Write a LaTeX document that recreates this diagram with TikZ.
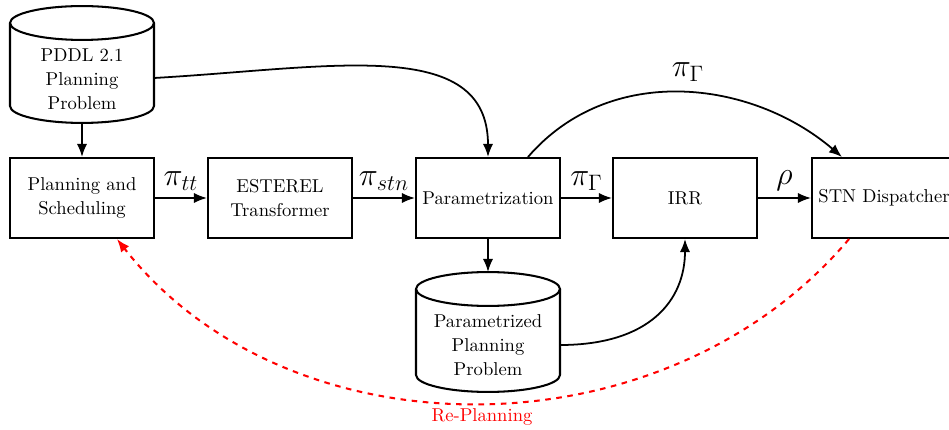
\documentclass[tikz,border=0pt]{standalone}
\usetikzlibrary{arrows.meta}
\begin{document}
\begin{tikzpicture}[x=0.5376pt,y=0.5376pt,
  box/.style={draw, line width=1.1pt, minimum width=77.4pt, minimum height=43pt, align=center, inner sep=2pt},
  txt/.style={align=center, inner sep=0pt},
  cylline/.style={line width=1.1pt},
  conn/.style={line width=0.95pt, -{Latex[length=7pt,width=5.5pt]}},
  lbl/.style={font=\LARGE, inner sep=2pt},
  replan/.style={red, dashed, line width=1.1pt, -{Latex[length=7pt,width=5.5pt]}}]
\useasboundingbox (0,0) rectangle (949,-430);

% PDDL cylinder
\draw[cylline] (82,-23) ellipse [x radius=38.7pt, y radius=9.1pt];
\draw[cylline] (10,-23) -- (10,-106) arc[start angle=180,end angle=360,x radius=38.7pt,y radius=9.1pt] -- (154,-23);
\node[txt] (pddl) at (82,-79) {PDDL 2.1\\[1pt]Planning\\[1pt]Problem};
\coordinate (pddlS) at (82,-123);
\coordinate (pddlE) at (154,-78);

% Parametrized cylinder
\draw[cylline] (488,-289) ellipse [x radius=38.7pt, y radius=9.1pt];
\draw[cylline] (416,-289) -- (416,-375) arc[start angle=180,end angle=360,x radius=38.7pt,y radius=9.1pt] -- (560,-289);
\node[txt] (ppp) at (488,-345) {Parametrized\\[1pt]Planning\\[1pt]Problem};
\coordinate (pppN) at (488,-272);
\coordinate (pppE) at (560,-345);

% boxes
\node[box] (ps) at (82,-198) {Planning and\\[1pt]Scheduling};
\node[box] (est) at (280,-198) {ESTEREL\\[1pt]Transformer};
\node[box] (par) at (488,-198) {Parametrization};
\node[box] (irr) at (685,-198) {IRR};
\node[box] (stn) at (884,-198) {STN Dispatcher};

% straight connectors
\draw[conn] (pddlS) -- (ps.north);
\draw[conn] (ps) -- node[lbl, above, yshift=1.5pt] {$\pi_{tt}$} (est);
\draw[conn] (est) -- node[lbl, above, yshift=1.5pt] {$\pi_{stn}$} (par);
\draw[conn] (par) -- node[lbl, above, yshift=1.5pt] {$\pi_{\Gamma}$} (irr);
\draw[conn] (irr) -- node[lbl, above, yshift=1.5pt] {$\rho$} (stn);
\draw[conn] (par.south) -- (pppN);

% curved connectors
\draw[conn] (pddlE) .. controls (330,-68) and (488,-35) .. (par.north);
\draw[conn] ([xshift=21.5pt]par.north) .. controls (610,-62) and (752,-80) .. ([xshift=-22.6pt]stn.north);
\node[lbl] (pigamma) at (688,-72) {$\pi_{\Gamma}$};
\draw[conn] (pppE) .. controls (650,-345) and (685,-300) .. (irr.south);

% re-planning
\draw[replan] ([xshift=-18.8pt]stn.south) .. controls (664,-458) and (289,-458) .. ([xshift=18.8pt]ps.south);
\node[red, inner sep=0pt] (replabel) at (482,-417) {Re-Planning};
\end{tikzpicture}
\end{document}
